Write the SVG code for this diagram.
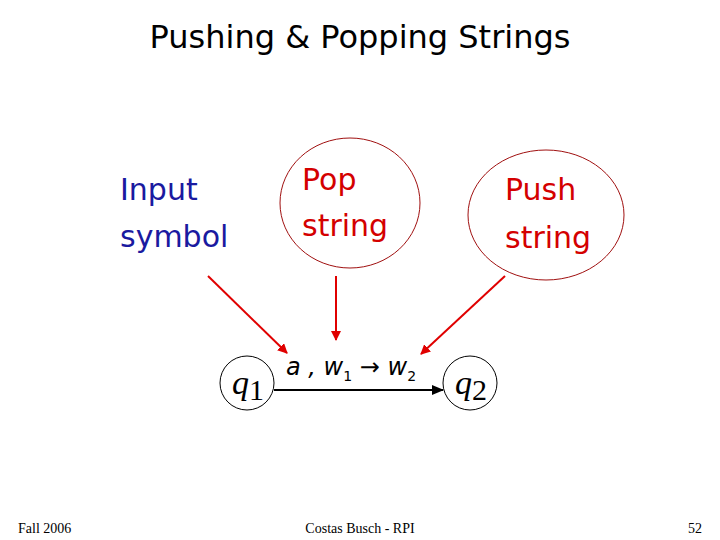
<svg xmlns="http://www.w3.org/2000/svg" width="720" height="540" viewBox="0 0 720 540">
<style>
.h{font-family:"Comic Sans MS","DejaVu Sans",sans-serif}
.red{fill:#d40000;font-size:30px}
.blue{fill:#1a1aa0;font-size:30px}
.st{font-family:"Liberation Serif",serif;font-size:34px;font-style:italic}
.lab{font-family:"DejaVu Sans",sans-serif;font-size:24px}
.ft{font-family:"Liberation Serif",serif;font-size:14px}
</style>
<defs>
<marker id="ra" markerWidth="10" markerHeight="10" refX="9" refY="5" orient="auto" markerUnits="userSpaceOnUse"><path d="M0,0 L10,5 L0,10z" fill="#e00000"/></marker>
<marker id="ka" markerWidth="12" markerHeight="10" refX="11" refY="5" orient="auto" markerUnits="userSpaceOnUse"><path d="M0,0 L12,5 L0,10z" fill="#000"/></marker>
</defs>
<rect width="720" height="540" fill="#fff"/>
<text x="360" y="48" text-anchor="middle" class="h" font-size="32">Pushing &amp; Popping Strings</text>
<g id="input"><text x="120" y="200" class="h blue">Input</text><text x="120" y="247" class="h blue">symbol</text></g>
<g id="pop"><ellipse cx="350" cy="203" rx="70" ry="65" fill="none" stroke="#a01010"/><text x="302" y="190" class="h red">Pop</text><text x="302" y="236" class="h red">string</text></g>
<g id="push"><ellipse cx="546" cy="215" rx="78" ry="65" fill="none" stroke="#a01010"/><text x="505" y="200" class="h red">Push</text><text x="505" y="248" class="h red">string</text></g>
<g id="q1"><circle cx="247" cy="383" r="27" fill="#fff" stroke="#000"/><text x="232" y="394" class="st">q<tspan font-style="normal" font-size="30" dy="6">1</tspan></text></g>
<g id="q2"><circle cx="470" cy="383" r="27" fill="#fff" stroke="#000"/><text x="455" y="394" class="st">q<tspan font-style="normal" font-size="30" dy="6">2</tspan></text></g>
<g id="connectors">
<line x1="274" y1="390" x2="443" y2="390" stroke="#000" stroke-width="2" marker-end="url(#ka)"/>
<line x1="208" y1="276" x2="287" y2="353" stroke="#e00000" stroke-width="2" marker-end="url(#ra)"/>
<line x1="336" y1="276" x2="336" y2="340" stroke="#e00000" stroke-width="2" marker-end="url(#ra)"/>
<line x1="505" y1="276" x2="421" y2="354" stroke="#e00000" stroke-width="2" marker-end="url(#ra)"/>
</g>
<text x="286" y="375" class="lab" font-style="italic">a , w<tspan font-size="14" font-style="normal" dy="6">1</tspan><tspan dy="-6" font-style="normal"> → </tspan>w<tspan font-size="14" font-style="normal" dy="6">2</tspan></text>
<text x="18" y="533" class="ft">Fall 2006</text>
<text x="360" y="533" text-anchor="middle" class="ft">Costas Busch - RPI</text>
<text x="702" y="533" text-anchor="end" class="ft">52</text>
</svg>
